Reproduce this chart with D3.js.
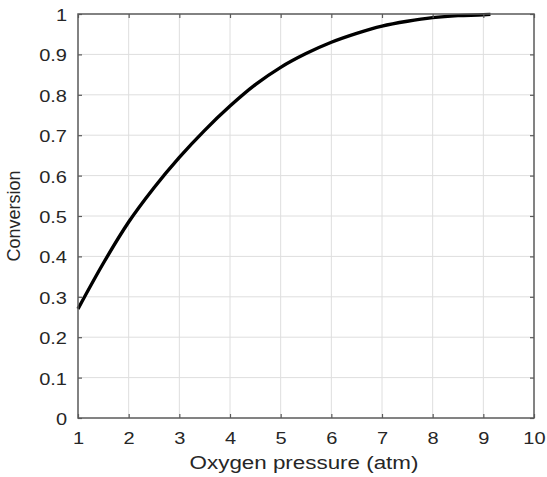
<!DOCTYPE html>
<html>
<head>
<meta charset="utf-8">
<script src="https://cdn.jsdelivr.net/npm/d3@7"></script>
<style>
  html, body { margin: 0; padding: 0; background: #fff; }
  svg { display: block; }
</style>
</head>
<body>
<svg id="chart" width="547" height="477"></svg>
<script>
// Data
const pressure   = [1, 1.5, 2, 2.5, 3, 3.5, 4, 4.5, 5, 5.5, 6, 6.5, 7, 7.5, 8, 8.5, 9, 9.14];
const conversion = [0.27, 0.383, 0.485, 0.570, 0.645, 0.712, 0.772, 0.825, 0.868, 0.902, 0.930, 0.952, 0.970, 0.982, 0.991, 0.996, 0.998, 0.999];
const xTicks = [1, 2, 3, 4, 5, 6, 7, 8, 9, 10];
const yTicks = [0, 0.1, 0.2, 0.3, 0.4, 0.5, 0.6, 0.7, 0.8, 0.9, 1];
const xLabel = "Oxygen pressure (atm)";
const yLabel = "Conversion";

const svg = d3.select("#chart");
const L = 78, R = 534, T = 14, B = 418;
const x = d3.scaleLinear().domain([1, 10]).range([L, R]);
const y = d3.scaleLinear().domain([0, 1]).range([B, T]);

const font = "'Liberation Sans', Arial, Helvetica, sans-serif";
const textColor = "#262626";
const axisColor = "#5a5a5a";
const stretch = 1.25;

// grid
const grid = svg.append("g");
grid.selectAll("line.gx").data(xTicks.slice(1, -1)).join("line")
  .attr("x1", d => x(d)).attr("x2", d => x(d)).attr("y1", T).attr("y2", B)
  .attr("stroke", "#dedede").attr("stroke-width", 1);
grid.selectAll("line.gy").data(yTicks.slice(1, -1)).join("line")
  .attr("x1", L).attr("x2", R).attr("y1", d => y(d)).attr("y2", d => y(d))
  .attr("stroke", "#dedede").attr("stroke-width", 1);

// curve
const data = pressure.map((p, i) => [p, conversion[i]]);
svg.append("path")
  .datum(data)
  .attr("fill", "none")
  .attr("stroke", "#000")
  .attr("stroke-width", 3.4)
  .attr("stroke-linejoin", "round")
  .attr("d", d3.line().x(d => x(d[0])).y(d => y(d[1])).curve(d3.curveMonotoneX));

// axes (ticks inward, all four sides)
function style(g) {
  g.select(".domain").remove();
  g.selectAll(".tick line").attr("stroke", axisColor).attr("stroke-width", 1.2);
  g.selectAll("text").attr("fill", textColor).style("font-family", font).style("font-size", "16px");
}
const gB = svg.append("g").attr("transform", `translate(0,${B})`)
  .call(d3.axisBottom(x).tickValues(xTicks).tickSize(-4).tickFormat(d3.format("d")));
style(gB);
gB.selectAll("text").attr("y", 26).attr("dy", null)
  .attr("transform", `scale(${stretch},1)`);

svg.append("g").attr("transform", `translate(0,${T})`)
  .call(d3.axisTop(x).tickValues(xTicks).tickSize(-4).tickFormat(""))
  .call(style);

const gL = svg.append("g").attr("transform", `translate(${L},0)`)
  .call(d3.axisLeft(y).tickValues(yTicks).tickSize(-4).tickFormat(d => d === 0 || d === 1 ? d3.format("d")(d) : d3.format(".1f")(d)));
style(gL);
gL.selectAll("text").attr("x", -11 / stretch).attr("y", 6.5).attr("dy", null)
  .attr("transform", `scale(${stretch},1)`);

svg.append("g").attr("transform", `translate(${R},0)`)
  .call(d3.axisRight(y).tickValues(yTicks).tickSize(-4).tickFormat(""))
  .call(style);

// box
svg.append("rect")
  .attr("x", L).attr("y", T).attr("width", R - L).attr("height", B - T)
  .attr("fill", "none").attr("stroke", axisColor).attr("stroke-width", 1.5);

// axis labels
svg.append("text")
  .attr("transform", `translate(${(L + R) / 2 - 2},469) scale(1.28,1)`)
  .attr("text-anchor", "middle")
  .attr("fill", textColor)
  .style("font-family", font).style("font-size", "17.5px")
  .text(xLabel);

svg.append("text")
  .attr("transform", `translate(20,${(T + B) / 2}) rotate(-90)`)
  .attr("text-anchor", "middle")
  .attr("fill", textColor)
  .style("font-family", font).style("font-size", "18px")
  .text(yLabel);
</script>
</body>
</html>
